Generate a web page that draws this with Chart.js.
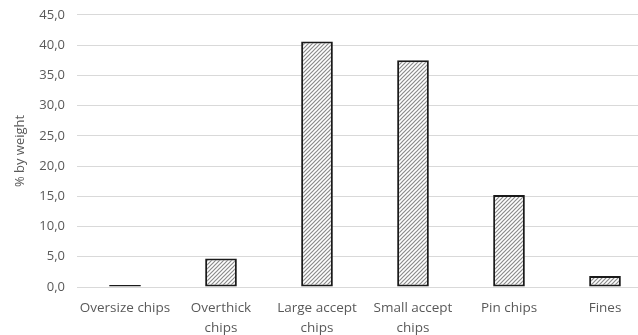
<!DOCTYPE html>
<html><head><meta charset="utf-8">
<script src="https://cdn.jsdelivr.net/npm/chart.js@4"></script>
<style>
html,body{margin:0;padding:0;background:#fff;overflow:hidden;width:638px;height:335px;}
#wrap{width:654px;height:335px;position:relative;}
</style></head>
<body><div id="wrap"><canvas id="c"></canvas></div>
<script>
const categories = [["Oversize chips"], ["Overthick", "chips"], ["Large accept", "chips"], ["Small accept", "chips"], ["Pin chips"], ["Fines"]];
const values = [0.2, 4.7, 40.6, 37.5, 15.2, 1.8];
const yTitle = "% by weight";
const yMin = 0, yMax = 45, yStep = 5;

function hatch(){
  const s = 4;
  const p = document.createElement('canvas');
  p.width = s; p.height = s;
  const g = p.getContext('2d');
  g.fillStyle = '#ffffff'; g.fillRect(0,0,s,s);
  g.strokeStyle = '#8a8a8a'; g.lineWidth = 1.2;
  g.beginPath();
  g.moveTo(-1, s+1); g.lineTo(s+1, -1);
  g.moveTo(-1-s, s+1); g.lineTo(1, -1);
  g.moveTo(s-1, s+1); g.lineTo(s+s+1, -1);
  g.stroke();
  return g.createPattern(p, 'repeat');
}
const fam = "'Open Sans', 'Liberation Sans', sans-serif";
new Chart(document.getElementById('c'), {
  type: 'bar',
  data: { labels: categories, datasets: [{ data: values, backgroundColor: hatch(), borderColor: '#1a1a1a', borderWidth: 2, borderSkipped: false, minBarLength: 2, barPercentage: 0.33, categoryPercentage: 1 }] },
  options: {
    responsive: true, maintainAspectRatio: false, animation: false,
    layout: { padding: { top: 1, right: 1, left: 0, bottom: 0 } },
    plugins: { legend: {display:false}, tooltip: {enabled:false} },
    scales: {
      x: {
        grid: { display: false, drawTicks: false },
        border: { display: true, color: '#d9d9d9', width: 1 },
        ticks: { color: '#595959', font: {family: fam, size: 13.5, lineHeight: 1.5}, padding: 11, maxRotation: 0, autoSkip: false },
        afterFit: s => { s.height = 48; }
      },
      y: {
        min: yMin, max: yMax,
        ticks: { stepSize: yStep, color: '#595959', font: {family: fam, size: 13, lineHeight: 0.45}, padding: 12,
          callback: v => v.toFixed(1).replace('.', ',') },
        grid: { color: '#d9d9d9', drawTicks: false },
        border: { display: false },
        title: { display: true, text: yTitle, color: '#595959', font: {family: fam, size: 13}, padding: {top: 12, bottom: 0} },
        afterFit: s => { s.width = 77; }
      }
    }
  }
});
</script></body></html>
